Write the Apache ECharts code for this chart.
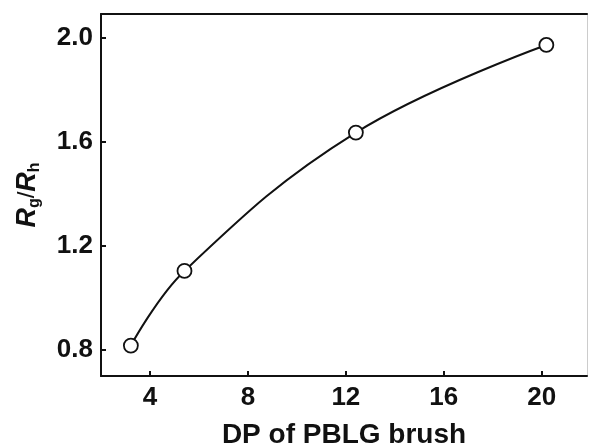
<!DOCTYPE html>
<html>
<head>
<meta charset="utf-8">
<script src="https://cdn.jsdelivr.net/npm/echarts@6/dist/echarts.min.js"></script>
<style>
  html, body { margin: 0; padding: 0; background: #fff; }
  #main { width: 589px; height: 446px; }
</style>
</head>
<body>
<div id="main"></div>
<script>
// DP of PBLG brush vs Rg/Rh
var dp_values = [3.22, 5.41, 12.41, 20.19];
var ratio_values = [0.817, 1.104, 1.636, 1.973];
var x_ticks = [4, 8, 12, 16, 20];
var y_ticks = [0.8, 1.2, 1.6, 2.0];

var points = dp_values.map(function (x, i) { return [x, ratio_values[i]]; });

var chart_dom = document.getElementById("main");
var chart = echarts.init(chart_dom);

var label_font = {
    fontFamily: 'Liberation Sans',
    fontWeight: 'bold',
    fontSize: 26,
    color: '#111'
};

chart.setOption({
    animation: false,
    grid: {
        left: 101,
        top: 14,
        right: 2,
        bottom: 70,
        outerBoundsMode: 'none',
        containLabel: false,
        show: false
    },
    xAxis: [
        {
            type: 'value',
            min: 2,
            max: 21.85,
            splitLine: {show: false},
            axisLine: {lineStyle: {color: '#111', width: 2}},
            axisTick: {
                inside: true,
                length: 5,
                customValues: x_ticks,
                lineStyle: {color: '#111', width: 2}
            },
            axisLabel: Object.assign({
                customValues: x_ticks,
                margin: 9
            }, label_font),
            name: 'DP of PBLG brush',
            nameLocation: 'middle',
            nameGap: 45,
            nameTextStyle: {
                fontFamily: 'Liberation Sans',
                fontWeight: 'bold',
                fontSize: 28,
                color: '#111'
            }
        },
        {
            type: 'value',
            position: 'top',
            min: 2,
            max: 21.85,
            splitLine: {show: false},
            axisLine: {show: true, lineStyle: {color: '#111', width: 2}},
            axisTick: {show: false},
            axisLabel: {show: false}
        }
    ],
    yAxis: [
        {
            type: 'value',
            min: 0.7,
            max: 2.092,
            splitLine: {show: false},
            axisLine: {show: true, lineStyle: {color: '#111', width: 2}},
            axisTick: {
                inside: true,
                length: 5,
                customValues: y_ticks,
                lineStyle: {color: '#111', width: 2}
            },
            axisLabel: Object.assign({
                customValues: y_ticks,
                margin: 8,
                formatter: function (v) { return v.toFixed(1); }
            }, label_font),
            name: '{i|R}{s|g}{n|/}{i|R}{s|h}',
            nameLocation: 'middle',
            nameRotate: 90,
            nameGap: 58,
            nameTextStyle: {
                rich: {
                    i: {fontFamily: 'Liberation Sans', fontStyle: 'italic', fontWeight: 'bold', fontSize: 27, color: '#111'},
                    n: {fontFamily: 'Liberation Sans', fontSize: 24, color: '#111'},
                    s: {fontFamily: 'Liberation Sans', fontWeight: 'bold', fontSize: 16, color: '#111', verticalAlign: 'bottom', padding: [15, 0, 0, 0]}
                }
            }
        },
        {
            type: 'value',
            position: 'right',
            min: 0.7,
            max: 2.092,
            splitLine: {show: false},
            axisLine: {show: true, lineStyle: {color: '#ccc', width: 1}},
            axisTick: {show: false},
            axisLabel: {show: false}
        }
    ],
    series: [
        {
            name: 'curve',
            type: 'line',
            data: points,
            smooth: 0.4,
            showSymbol: false,
            lineStyle: {color: '#111', width: 2},
            z: 2
        },
        {
            name: 'points',
            type: 'scatter',
            data: points,
            symbol: 'circle',
            symbolSize: 14,
            itemStyle: {color: '#fff', opacity: 1, borderColor: '#111', borderWidth: 1.8},
            z: 3
        }
    ]
});
</script>
</body>
</html>
